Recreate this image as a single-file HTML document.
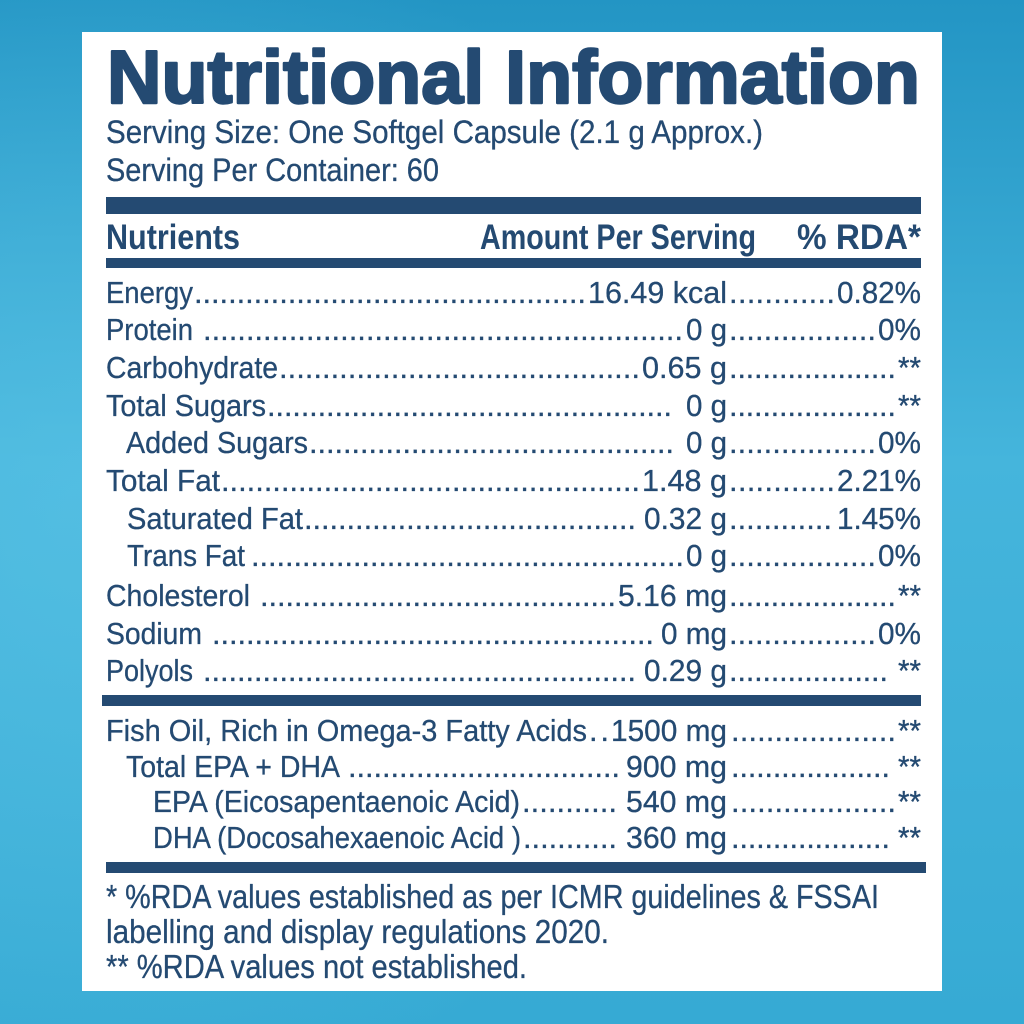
<!DOCTYPE html>
<html><head><meta charset="utf-8"><style>
html,body{margin:0;padding:0;width:1024px;height:1024px;overflow:hidden}
svg{display:block}
text{font-family:"Liberation Sans",Arial,sans-serif;fill:#244a72}
.t{font-size:31px;stroke:#244a72;stroke-width:0.3}
.b{font-weight:bold}
.f{stroke:#244a72;stroke-width:0.3}
</style></head><body>
<svg width="1024" height="1024" viewBox="0 0 1024 1024" xmlns="http://www.w3.org/2000/svg">
<defs>
<linearGradient id="bg" x1="0" y1="0" x2="0" y2="1">
<stop offset="0" stop-color="#2395c4"/>
<stop offset="0.45" stop-color="#45b5dc"/>
<stop offset="1" stop-color="#36aad4"/>
</linearGradient>
<radialGradient id="gl" cx="0.1" cy="0.5" r="0.6">
<stop offset="0" stop-color="#5cc4e6" stop-opacity="0.6"/>
<stop offset="1" stop-color="#5cc4e6" stop-opacity="0"/>
</radialGradient>
</defs>
<rect width="1024" height="1024" fill="url(#bg)"/>
<rect width="1024" height="1024" fill="url(#gl)"/>
<rect x="82" y="32" width="860" height="959" fill="#ffffff"/>

<text x="107" y="103" font-size="75" class="b" textLength="813" lengthAdjust="spacingAndGlyphs" stroke="#244a72" stroke-width="2.4" stroke-linejoin="round">Nutritional Information</text>
<text x="106" y="143" font-size="32" class="f" textLength="657" lengthAdjust="spacingAndGlyphs">Serving Size: One Softgel Capsule (2.1 g Approx.)</text>
<text x="106" y="181" font-size="32" class="f" textLength="333" lengthAdjust="spacingAndGlyphs">Serving Per Container: 60</text>

<rect x="106" y="197" width="815" height="17" fill="#244a72"/>
<text x="106" y="249" font-size="35" class="b" textLength="134" lengthAdjust="spacingAndGlyphs">Nutrients</text>
<text x="480" y="249" font-size="35" class="b" textLength="276" lengthAdjust="spacingAndGlyphs">Amount Per Serving</text>
<text x="797" y="249" font-size="35" class="b" textLength="124" lengthAdjust="spacingAndGlyphs">% RDA*</text>
<rect x="106" y="258" width="815" height="10" fill="#244a72"/>

<!-- Energy -->
<text class="t" x="106" y="303" textLength="87" lengthAdjust="spacingAndGlyphs">Energy</text>
<text class="t" x="194" y="303" textLength="392" lengthAdjust="spacing">..............................................</text>
<text class="t" x="588" y="303" textLength="139" lengthAdjust="spacingAndGlyphs">16.49 kcal</text>
<text class="t" x="729" y="303" textLength="106" lengthAdjust="spacing">............</text>
<text class="t" x="837" y="303" textLength="84" lengthAdjust="spacingAndGlyphs">0.82%</text>
<!-- Protein -->
<text class="t" x="106" y="340" textLength="87" lengthAdjust="spacingAndGlyphs">Protein</text>
<text class="t" x="203" y="340" textLength="480" lengthAdjust="spacing">........................................................</text>
<text class="t" x="686" y="340" textLength="41" lengthAdjust="spacingAndGlyphs">0 g</text>
<text class="t" x="729" y="340" textLength="147" lengthAdjust="spacing">.................</text>
<text class="t" x="878" y="340" textLength="43" lengthAdjust="spacingAndGlyphs">0%</text>
<!-- Carbohydrate -->
<text class="t" x="106" y="378" textLength="172" lengthAdjust="spacingAndGlyphs">Carbohydrate</text>
<text class="t" x="279" y="378" textLength="361" lengthAdjust="spacing">..........................................</text>
<text class="t" x="642" y="378" textLength="85" lengthAdjust="spacingAndGlyphs">0.65 g</text>
<text class="t" x="729" y="378" textLength="167" lengthAdjust="spacing">....................</text>
<text class="t" x="898" y="378" textLength="23" lengthAdjust="spacingAndGlyphs">**</text>
<!-- Total Sugars -->
<text class="t" x="106" y="416" textLength="160" lengthAdjust="spacingAndGlyphs">Total Sugars</text>
<text class="t" x="267" y="416" textLength="405" lengthAdjust="spacing">................................................</text>
<text class="t" x="686" y="416" textLength="41" lengthAdjust="spacingAndGlyphs">0 g</text>
<text class="t" x="729" y="416" textLength="167" lengthAdjust="spacing">....................</text>
<text class="t" x="898" y="416" textLength="23" lengthAdjust="spacingAndGlyphs">**</text>
<!-- Added Sugars -->
<text class="t" x="126" y="453" textLength="182" lengthAdjust="spacingAndGlyphs">Added Sugars</text>
<text class="t" x="309" y="453" textLength="365" lengthAdjust="spacing">...........................................</text>
<text class="t" x="686" y="453" textLength="41" lengthAdjust="spacingAndGlyphs">0 g</text>
<text class="t" x="729" y="453" textLength="147" lengthAdjust="spacing">.................</text>
<text class="t" x="878" y="453" textLength="43" lengthAdjust="spacingAndGlyphs">0%</text>
<!-- Total Fat -->
<text class="t" x="106" y="491" textLength="114" lengthAdjust="spacingAndGlyphs">Total Fat</text>
<text class="t" x="221" y="491" textLength="419" lengthAdjust="spacing">.................................................</text>
<text class="t" x="642" y="491" textLength="85" lengthAdjust="spacingAndGlyphs">1.48 g</text>
<text class="t" x="729" y="491" textLength="106" lengthAdjust="spacing">............</text>
<text class="t" x="837" y="491" textLength="84" lengthAdjust="spacingAndGlyphs">2.21%</text>
<!-- Saturated Fat -->
<text class="t" x="127" y="529" textLength="176" lengthAdjust="spacingAndGlyphs">Saturated Fat</text>
<text class="t" x="304" y="529" textLength="332" lengthAdjust="spacing">.......................................</text>
<text class="t" x="644" y="529" textLength="83" lengthAdjust="spacingAndGlyphs">0.32 g</text>
<text class="t" x="729" y="529" textLength="103" lengthAdjust="spacing">............</text>
<text class="t" x="837" y="529" textLength="84" lengthAdjust="spacingAndGlyphs">1.45%</text>
<!-- Trans Fat -->
<text class="t" x="127" y="566" textLength="118" lengthAdjust="spacingAndGlyphs">Trans Fat</text>
<text class="t" x="251" y="566" textLength="433" lengthAdjust="spacing">...................................................</text>
<text class="t" x="686" y="566" textLength="41" lengthAdjust="spacingAndGlyphs">0 g</text>
<text class="t" x="729" y="566" textLength="147" lengthAdjust="spacing">.................</text>
<text class="t" x="878" y="566" textLength="43" lengthAdjust="spacingAndGlyphs">0%</text>
<!-- Cholesterol -->
<text class="t" x="106" y="606" textLength="144" lengthAdjust="spacingAndGlyphs">Cholesterol</text>
<text class="t" x="260" y="606" textLength="356" lengthAdjust="spacing">..........................................</text>
<text class="t" x="618" y="606" textLength="109" lengthAdjust="spacingAndGlyphs">5.16 mg</text>
<text class="t" x="729" y="606" textLength="167" lengthAdjust="spacing">....................</text>
<text class="t" x="898" y="606" textLength="23" lengthAdjust="spacingAndGlyphs">**</text>
<!-- Sodium -->
<text class="t" x="106" y="644" textLength="96" lengthAdjust="spacingAndGlyphs">Sodium</text>
<text class="t" x="212" y="644" textLength="442" lengthAdjust="spacing">....................................................</text>
<text class="t" x="661" y="644" textLength="66" lengthAdjust="spacingAndGlyphs">0 mg</text>
<text class="t" x="729" y="644" textLength="147" lengthAdjust="spacing">.................</text>
<text class="t" x="878" y="644" textLength="43" lengthAdjust="spacingAndGlyphs">0%</text>
<!-- Polyols -->
<text class="t" x="106" y="681" textLength="87" lengthAdjust="spacingAndGlyphs">Polyols</text>
<text class="t" x="203" y="681" textLength="433" lengthAdjust="spacing">...................................................</text>
<text class="t" x="644" y="681" textLength="83" lengthAdjust="spacingAndGlyphs">0.29 g</text>
<text class="t" x="729" y="681" textLength="159" lengthAdjust="spacing">...................</text>
<text class="t" x="898" y="681" textLength="23" lengthAdjust="spacingAndGlyphs">**</text>

<rect x="102" y="695" width="819" height="11" fill="#244a72"/>

<!-- Fish oil -->
<text class="t" x="106" y="741" textLength="481" lengthAdjust="spacingAndGlyphs">Fish Oil, Rich in Omega-3 Fatty Acids</text>
<text class="t" x="589" y="741" textLength="20" lengthAdjust="spacing">..</text>
<text class="t" x="611" y="741" textLength="116" lengthAdjust="spacingAndGlyphs">1500 mg</text>
<text class="t" x="731" y="741" textLength="165" lengthAdjust="spacing">...................</text>
<text class="t" x="898" y="741" textLength="23" lengthAdjust="spacingAndGlyphs">**</text>

<text class="t" x="126" y="777" textLength="214" lengthAdjust="spacingAndGlyphs">Total EPA + DHA</text>
<text class="t" x="348" y="777" textLength="272" lengthAdjust="spacing">................................</text>
<text class="t" x="626" y="777" textLength="101" lengthAdjust="spacingAndGlyphs">900 mg</text>
<text class="t" x="731" y="777" textLength="159" lengthAdjust="spacing">...................</text>
<text class="t" x="898" y="777" textLength="23" lengthAdjust="spacingAndGlyphs">**</text>

<text class="t" x="153" y="812" textLength="367" lengthAdjust="spacingAndGlyphs">EPA (Eicosapentaenoic Acid)</text>
<text class="t" x="522" y="812" textLength="95" lengthAdjust="spacing">...........</text>
<text class="t" x="626" y="812" textLength="101" lengthAdjust="spacingAndGlyphs">540 mg</text>
<text class="t" x="731" y="812" textLength="165" lengthAdjust="spacing">...................</text>
<text class="t" x="898" y="812" textLength="23" lengthAdjust="spacingAndGlyphs">**</text>

<text class="t" x="153" y="848" textLength="368" lengthAdjust="spacingAndGlyphs">DHA (Docosahexaenoic Acid )</text>
<text class="t" x="523" y="848" textLength="94" lengthAdjust="spacing">...........</text>
<text class="t" x="626" y="848" textLength="101" lengthAdjust="spacingAndGlyphs">360 mg</text>
<text class="t" x="731" y="848" textLength="159" lengthAdjust="spacing">...................</text>
<text class="t" x="898" y="848" textLength="23" lengthAdjust="spacingAndGlyphs">**</text>

<rect x="106" y="862" width="820" height="11" fill="#244a72"/>

<text x="106" y="908" font-size="33" class="f" textLength="773" lengthAdjust="spacingAndGlyphs">* %RDA values established as per ICMR guidelines &amp; FSSAI</text>
<text x="106" y="943" font-size="33" class="f" textLength="503" lengthAdjust="spacingAndGlyphs">labelling and display regulations 2020.</text>
<text x="106" y="978" font-size="33" class="f" textLength="421" lengthAdjust="spacingAndGlyphs">** %RDA values not established.</text>
</svg>
</body></html>
